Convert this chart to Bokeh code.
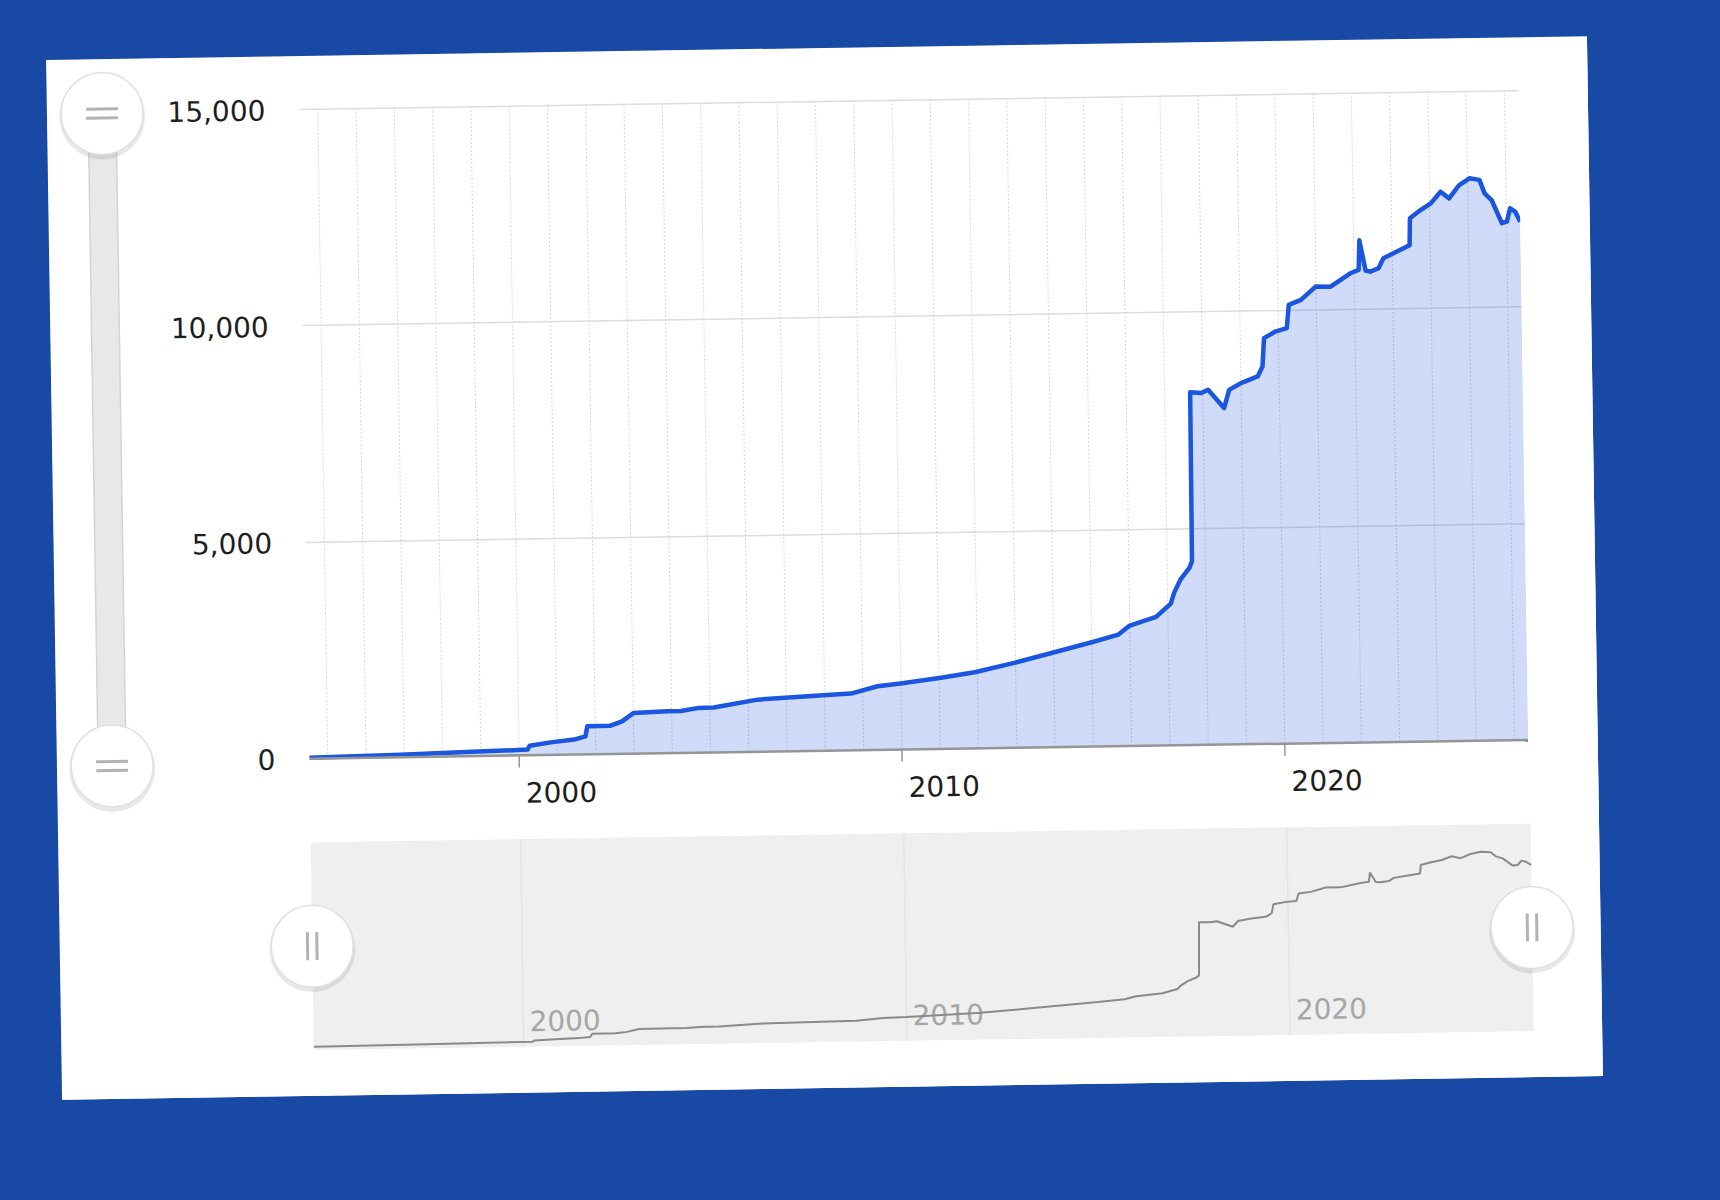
import math
from bokeh.plotting import figure
from bokeh.layouts import column, row
from bokeh.models import Range1d, LinearAxis, FixedTicker, NumeralTickFormatter, Grid, Span
from bokeh.core.properties import value
from bokeh.embed import file_html
from bokeh.resources import INLINE

# ---------------- data ----------------
years = [1994.52, 1996.91, 1999.09, 2000.22, 2000.28, 2000.83, 2001.44, 2001.74, 2001.79,
         2002.40, 2002.70, 2003.01, 2003.88, 2004.24, 2004.71, 2005.10, 2006.25, 2007.56,
         2008.69, 2009.39, 2009.99, 2011.05, 2011.93, 2012.97, 2014.02, 2015.00, 2015.70,
         2016.00, 2016.69, 2017.08, 2017.17, 2017.34, 2017.58, 2017.65, 2017.67, 2017.96,
         2018.14, 2018.55, 2018.69, 2019.00, 2019.44, 2019.57, 2019.62, 2019.92, 2020.22,
         2020.28, 2020.60, 2020.99, 2021.38, 2021.90, 2022.12, 2022.15, 2022.30, 2022.42,
         2022.64, 2022.77, 2023.38, 2023.46, 2023.48, 2023.70, 2024.03, 2024.29, 2024.51,
         2024.78, 2025.05, 2025.31, 2025.44, 2025.62, 2025.88, 2026.01, 2026.10, 2026.23,
         2026.36]
values = [20, 55, 106, 131, 221, 290, 346, 418, 648,
          655, 750, 941, 967, 970, 1034, 1040, 1204, 1264,
          1310, 1470, 1525, 1643, 1760, 1963, 2194, 2411, 2579,
          2782, 2974, 3276, 3523, 3827, 4095, 4250, 8150, 8128,
          8201, 7773, 8192, 8344, 8492, 8720, 9375, 9523, 9597,
          10135, 10245, 10548, 10541, 10843, 10917, 11600, 10900, 10873,
          10949, 11178, 11438, 11470, 12091, 12241, 12430, 12695, 12538,
          12843, 12995, 12954, 12642, 12485, 11945, 11980, 12287, 12208,
          11973]
decade_ticks = [2000, 2010, 2020]
decade_labels = ["2000", "2010", "2020"]
year_grid = list(range(1995, 2027))
y_ticks = [0, 5000, 10000, 15000]

# ---------------- style / layout constants ----------------
FONT = "DejaVu Sans"
BG = "#184aa5"
BLUE = "#1a56e0"
TILT = 0.88                          # card rotation, degrees
CARD_W, CARD_H = 1541, 1040
SLIDER_W = 110
TOP_H = 765
PLOT_L, PLOT_R = 252, 1472           # plot area edges in card pixels
Y_TOP_PX, Y_ZERO_PX = 53, 703        # 15000 and 0 in card pixels
LABEL_SHIFT = 1.09                   # year labels sit right of their tick
LABEL_DROP = 37                      # px from baseline to label centre

_s, _c = math.sin(math.radians(TILT)), math.cos(math.radians(TILT))


def canvas_size(w, h):
    """Bokeh sizes a canvas from the rotated bounding box of its element."""
    return w * _c + h * _s, h * _c + w * _s


X0, X1 = years[0], years[-1]
k = (PLOT_R - PLOT_L) / (X1 - X0)                 # px per year
upp = 15000 / (Y_ZERO_PX - Y_TOP_PX)               # value per px (main)


def clean(p):
    p.grid.visible = False
    p.background_fill_color = "white"
    p.border_fill_color = "white"
    p.outline_line_color = None


# ---------------- left vertical slider ----------------
sw, sh = canvas_size(SLIDER_W, TOP_H)
slider = figure(width=SLIDER_W, height=TOP_H, x_range=Range1d(0, sw),
                y_range=Range1d(sh, 0), output_backend="svg", toolbar_location=None,
                x_axis_location=None, y_axis_location=None,
                min_border_left=0, min_border_right=0, min_border_top=0, min_border_bottom=0)
clean(slider)
sx = 55
h_top, h_bot = 54, 707
slider.quad(left=[41], right=[69], top=[h_top], bottom=[h_bot],
            fill_color="#e8e8e8", line_color="#d4d4d4", line_width=1.5)
slider.scatter(x=[sx, sx], y=[h_top + 3, h_bot + 3], size=86, marker="circle",
               fill_color="black", fill_alpha=0.09, line_color=None)
slider.scatter(x=[sx, sx], y=[h_top, h_bot], size=82, marker="circle",
               fill_color="white", line_color="#e0e0e0", line_width=1.5)
slider.segment(x0=[sx - 16] * 4, x1=[sx + 16] * 4,
               y0=[h_top - 4.5, h_top + 4.5, h_bot - 4.5, h_bot + 4.5],
               y1=[h_top - 4.5, h_top + 4.5, h_bot - 4.5, h_bot + 4.5],
               line_color="#b3b3b3", line_width=3)

# ---------------- main chart ----------------
main_w = CARD_W - SLIDER_W
mw, mh = canvas_size(main_w, TOP_H)
main = figure(width=main_w, height=TOP_H,
              x_range=Range1d(X0, X1),
              y_range=Range1d(-(mh - Y_ZERO_PX) * upp, 15000 + Y_TOP_PX * upp),
              output_backend="svg", toolbar_location=None,
              x_axis_location=None, y_axis_location=None,
              min_border_left=PLOT_L - SLIDER_W,
              min_border_right=int(round(mw - (PLOT_R - SLIDER_W))),
              min_border_top=0, min_border_bottom=0)
clean(main)

hgrid = Grid(dimension=1, ticker=FixedTicker(ticks=y_ticks[1:]),
             grid_line_color="#dcdcdc", grid_line_width=1.5)
main.add_layout(hgrid, "center")

main.segment(x0=year_grid, x1=year_grid, y0=[0] * len(year_grid), y1=[15000] * len(year_grid),
             line_color="#d6d6d6", line_dash="2 2", line_width=1)
main.varea(x=years, y1=[0] * len(years), y2=values, fill_color=BLUE, fill_alpha=0.21)
main.line(years, values, line_color=BLUE, line_width=4.5, line_join="round")

# base line, decade ticks and their labels
main.add_layout(Span(location=0, dimension="width", line_color="#959595", line_width=2.5))
main.segment(x0=decade_ticks, x1=decade_ticks, y0=[0] * 3, y1=[-12 * upp] * 3,
             line_color="#959595", line_width=1.5)
main.text(x=[t + LABEL_SHIFT for t in decade_ticks], y=[-LABEL_DROP * upp] * 3,
          text=decade_labels, text_font=value(FONT), text_font_size="28px",
          text_color="#1e1e1e", text_align="center", text_baseline="middle")

yaxis = LinearAxis(ticker=FixedTicker(ticks=y_ticks),
                   formatter=NumeralTickFormatter(format="0,0"),
                   axis_line_color=None, major_tick_line_color=None,
                   minor_tick_line_color=None, major_tick_out=0, major_tick_in=0,
                   major_label_standoff=34,
                   major_label_text_font=FONT, major_label_text_font_size="28px",
                   major_label_text_color="#1e1e1e")
main.add_layout(yaxis, "left")

# ---------------- navigator ----------------
NAV_H = CARD_H - TOP_H
nw, nh = canvas_size(CARD_W, NAV_H)
PANEL_TOP_PX, PANEL_BOT_PX = 786 - TOP_H, 994 - TOP_H
NAV_BOT_VAL, NAV_TOP_VAL = -220, 15000
nupp = (NAV_TOP_VAL - NAV_BOT_VAL) / (PANEL_BOT_PX - PANEL_TOP_PX)
nav = figure(width=CARD_W, height=NAV_H,
             x_range=Range1d(X0 - PLOT_L / k, X0 + (nw - PLOT_L) / k),
             y_range=Range1d(NAV_BOT_VAL - (nh - PANEL_BOT_PX) * nupp,
                             NAV_TOP_VAL + PANEL_TOP_PX * nupp),
             output_backend="svg", toolbar_location=None,
             x_axis_location=None, y_axis_location=None,
             min_border_left=0, min_border_right=0, min_border_top=0, min_border_bottom=0)
clean(nav)
nav.quad(left=[X0], right=[X1], bottom=[NAV_BOT_VAL], top=[NAV_TOP_VAL],
         fill_color="#efefef", line_color=None)
nav.segment(x0=decade_ticks, x1=decade_ticks, y0=[NAV_BOT_VAL] * 3, y1=[NAV_TOP_VAL] * 3,
            line_color="#e4e4e4", line_width=1.5)
nav.text(x=[t + LABEL_SHIFT for t in decade_ticks], y=[NAV_BOT_VAL + 26 * nupp] * 3,
         text=decade_labels, text_font=value(FONT), text_font_size="28px",
         text_color="#a6a6a6", text_align="center", text_baseline="middle")
nav.line(years, values, line_color="#8a8a8a", line_width=2)

mid = (NAV_TOP_VAL + NAV_BOT_VAL) / 2
nav.scatter(x=[X0, X1], y=[mid - 3 * nupp] * 2, size=86, marker="circle",
            fill_color="black", fill_alpha=0.09, line_color=None)
nav.scatter(x=[X0, X1], y=[mid] * 2, size=82, marker="circle",
            fill_color="white", line_color="#e0e0e0", line_width=1.5)
gx = [X0 - 4.7 / k, X0 + 4.7 / k, X1 - 4.7 / k, X1 + 4.7 / k]
nav.segment(x0=gx, x1=gx, y0=[mid - 14 * nupp] * 4, y1=[mid + 14 * nupp] * 4,
            line_color="#b3b3b3", line_width=3)

# ---------------- card + page ----------------
card = column(row(slider, main, spacing=0), nav, width=CARD_W, height=CARD_H, spacing=0,
              margin=(48, 0, 0, 54),
              styles={"background-color": "white", "overflow": "hidden",
                      "transform": f"rotate(-{TILT}deg)"})
page = column(card, width=1720, height=1200,
              styles={"background-color": BG, "position": "fixed",
                      "left": "0px", "top": "0px"})

open("out.html", "w").write(file_html(page, INLINE))
